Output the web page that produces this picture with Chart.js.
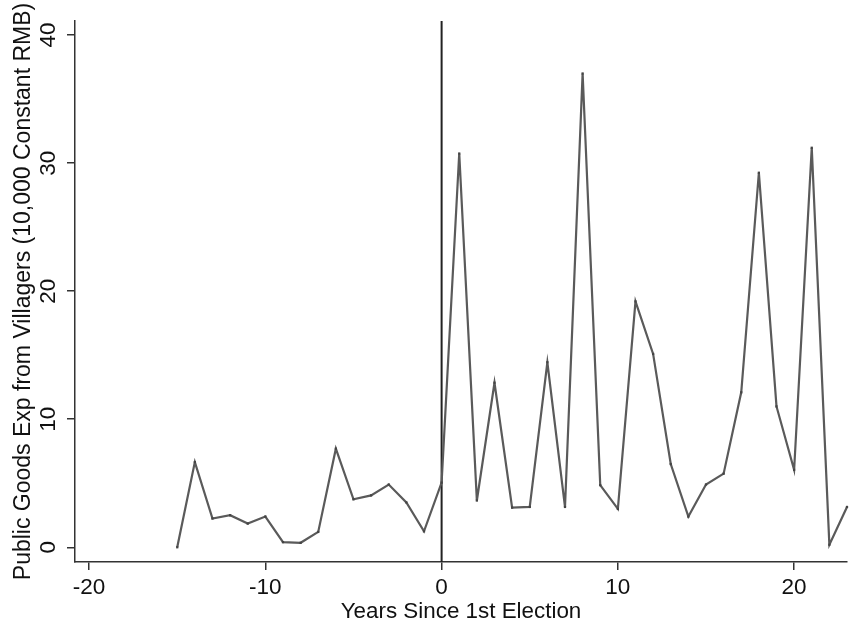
<!DOCTYPE html>
<html>
<head>
<meta charset="utf-8">
<script src="https://cdn.jsdelivr.net/npm/chart.js@4.4.0/dist/chart.umd.min.js"></script>
<style>
  body { margin: 0; background: #fff; }
  #wrap { width: 851px; height: 624px; }
</style>
</head>
<body>
<div id="wrap"><canvas id="chart"></canvas></div>
<script>
// Years since first election and public goods spending from villagers
const years = [-15, -14, -13, -12, -11, -10, -9, -8, -7, -6, -5, -4, -3, -2, -1, 0,
  1, 2, 3, 4, 5, 6, 7, 8, 9, 10, 11, 12, 13, 14, 15, 16, 17, 18, 19, 20, 21, 22, 23];
const spending = [0, 6.65, 2.25, 2.5, 1.85, 2.4, 0.4, 0.35, 1.2, 7.7, 3.75, 4.05, 4.9, 3.5, 1.25, 5.05,
  30.75, 3.65, 12.85, 3.1, 3.15, 14.45, 3.15, 37.0, 4.85, 3.0, 19.2, 15.1, 6.5, 2.4, 4.9, 5.75, 12.1, 29.25, 11.0, 6.05, 31.2, 0.2, 3.15];

const xTicks = [-20, -10, 0, 10, 20];
const yTicks = [0, 10, 20, 30, 40];
const xRange = [-20.8, 23.0];
const yRange = [-1.15, 41.1];
const electionYear = 0;

const axisColor = '#333';
const family = 'Liberation Sans, Arial, Helvetica, sans-serif';
const tickFont = { family: family, size: 22.5 };

const points = years.map((yr, i) => ({ x: yr, y: spending[i] }));

new Chart(document.getElementById('chart'), {
  type: 'line',
  data: {
    datasets: [
      {
        data: points,
        borderColor: '#5a5a5a',
        borderWidth: 2.2,
        pointStyle: 'rect',
        pointRadius: 1.6,
        pointBackgroundColor: '#444',
        pointBorderWidth: 0,
        tension: 0,
        clip: 4
      },
      {
        // election marker line
        data: [{ x: electionYear, y: yRange[0] }, { x: electionYear, y: yRange[1] }],
        borderColor: '#222',
        borderWidth: 2,
        pointRadius: 0
      }
    ]
  },
  options: {
    responsive: true,
    maintainAspectRatio: false,
    animation: false,
    layout: { padding: { top: 21, right: 0, left: 0, bottom: 0 } },
    plugins: { legend: { display: false }, tooltip: { enabled: false } },
    scales: {
      x: {
        type: 'linear',
        min: xRange[0],
        max: xRange[1],
        afterBuildTicks: scale => { scale.ticks = xTicks.map(v => ({ value: v })); },
        afterFit: scale => {
          scale.height = 62;
          scale.paddingLeft = 0;
          scale.paddingRight = 0;
        },
        border: { display: true, color: axisColor, width: 1.5 },
        grid: { drawOnChartArea: false, drawTicks: true, tickLength: 8, color: axisColor, lineWidth: 1.5 },
        ticks: { color: '#111', font: tickFont, padding: 4, maxRotation: 0 },
        title: {
          display: true,
          text: 'Years Since 1st Election',
          color: '#111',
          font: { family: family, size: 22.4, lineHeight: 1.1 },
          padding: 0
        }
      },
      y: {
        type: 'linear',
        min: yRange[0],
        max: yRange[1],
        afterBuildTicks: scale => { scale.ticks = yTicks.map(v => ({ value: v })); },
        afterFit: scale => {
          scale.width = 75;
          scale.paddingTop = 0;
          scale.paddingBottom = 0;
        },
        border: { display: true, color: axisColor, width: 1.5 },
        grid: { drawOnChartArea: false, drawTicks: true, tickLength: 8, color: axisColor, lineWidth: 1.5 },
        ticks: { color: '#111', font: tickFont, padding: 6, minRotation: 90, maxRotation: 90, crossAlign: 'center' },
        title: {
          display: true,
          text: 'Public Goods Exp from Villagers (10,000 Constant RMB)',
          color: '#111',
          font: { family: family, size: 23, lineHeight: 1.2 },
          padding: { top: 10, bottom: 0 }
        }
      }
    }
  }
});
</script>
</body>
</html>
